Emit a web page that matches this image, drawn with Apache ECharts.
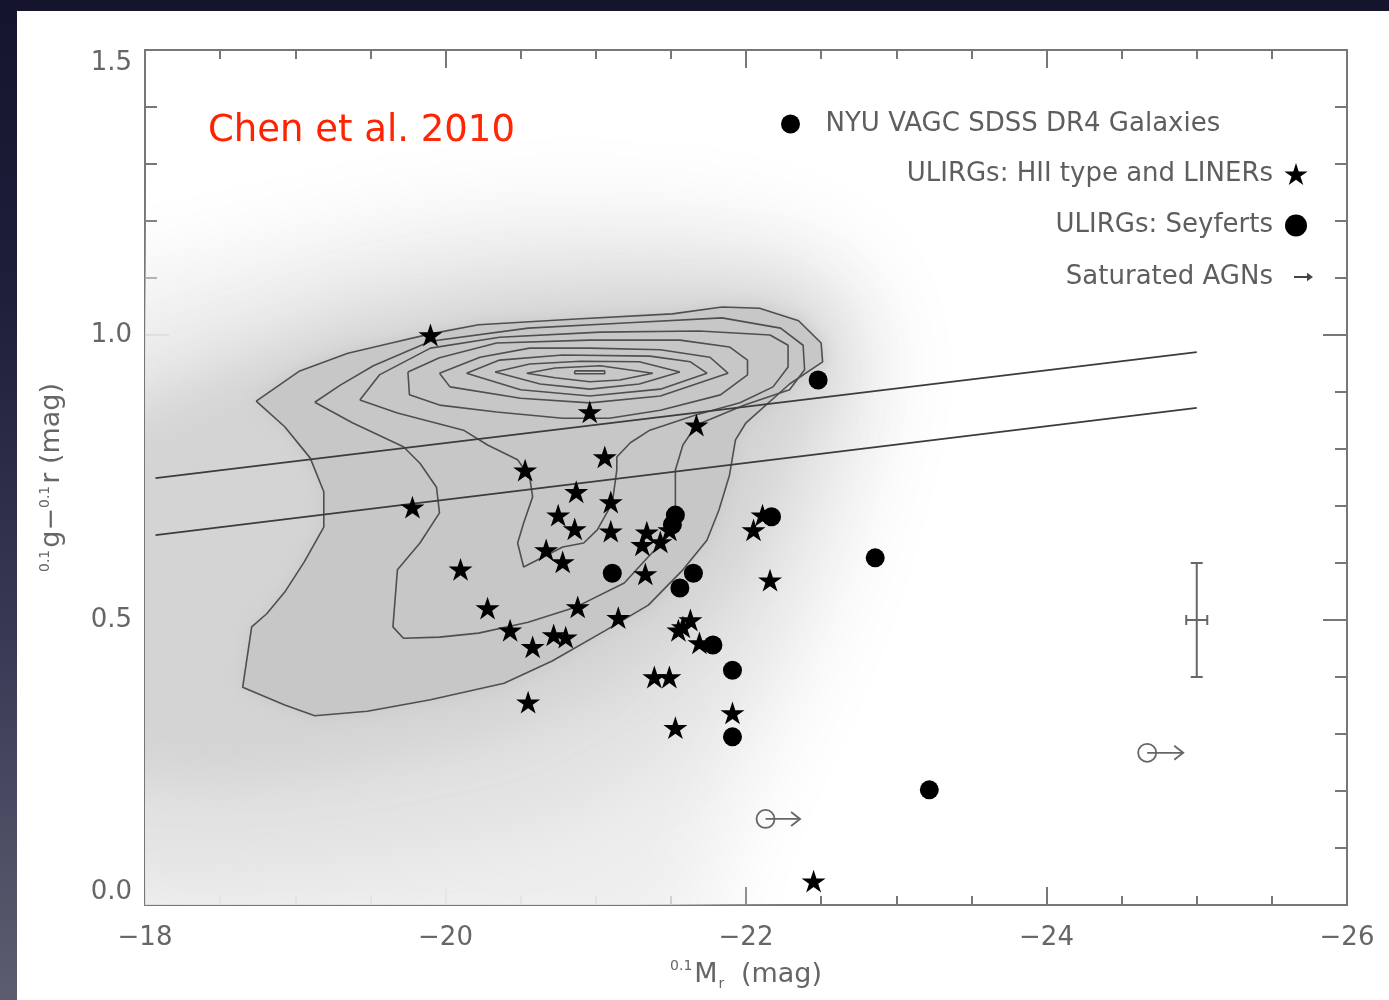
<!DOCTYPE html>
<html>
<head>
<meta charset="utf-8">
<script src="https://cdn.jsdelivr.net/npm/echarts@6/dist/echarts.min.js"></script>
<style>
  html, body { margin: 0; padding: 0; width: 1389px; height: 1000px; overflow: hidden;
    background: linear-gradient(180deg, #14142c 0%, #1f1f3c 30%, #3a3a56 65%, #5d5d70 100%); }
  #chart { position: absolute; left: 17px; top: 11px; width: 1372px; height: 989px; background: #fff; }
</style>
</head>
<body>
<div id="chart"></div>
<script>
// ---- series names ----
const NAME_GALAXIES = 'NYU VAGC SDSS DR4 Galaxies';
const NAME_HII = 'ULIRGs: HII type and LINERs';
const NAME_SEY = 'ULIRGs: Seyferts';
const NAME_SAT = 'Saturated AGNs';

// ---- ULIRGs, HII type and LINERs: [0.1Mr, 0.1(g-r)] ----
const hiiLinerStars = [
  [-19.90, 1.000], [-20.96, 0.865], [-21.67, 0.842], [-21.06, 0.786], [-20.53, 0.763],
  [-19.78, 0.698], [-20.87, 0.725], [-21.10, 0.707], [-20.75, 0.684], [-20.86, 0.660],
  [-21.10, 0.656], [-21.34, 0.654], [-21.31, 0.632], [-21.43, 0.637], [-21.49, 0.658],
  [-20.67, 0.623], [-20.78, 0.602], [-20.10, 0.589], [-21.33, 0.581], [-22.05, 0.658],
  [-22.11, 0.684], [-22.16, 0.570], [-20.28, 0.521], [-20.88, 0.523], [-21.15, 0.504],
  [-20.43, 0.482], [-20.58, 0.453], [-20.72, 0.474], [-20.80, 0.470], [-20.55, 0.356],
  [-21.39, 0.400], [-21.49, 0.400], [-21.53, 0.311], [-21.58, 0.488], [-21.63, 0.500],
  [-21.55, 0.482], [-21.69, 0.460], [-21.91, 0.337], [-22.45, 0.042]
];

// ---- ULIRGs, Seyferts ----
const seyfertDots = [
  [-22.48, 0.921], [-21.53, 0.684], [-21.51, 0.667], [-21.11, 0.582], [-21.65, 0.582],
  [-21.56, 0.556], [-21.78, 0.456], [-21.91, 0.412], [-21.91, 0.295], [-22.17, 0.681],
  [-22.86, 0.609], [-23.22, 0.202]
];

// ---- saturated AGNs: [Mr lower limit, colour, arrow tip Mr] ----
const saturatedAgn = [
  [-24.67, 0.267, -24.91],
  [-22.13, 0.151, -22.36]
];

// ---- typical uncertainty: [Mr, colour, dMr, dColour] ----
const typicalError = [[-25.0, 0.5, 0.07, 0.1]];

// ---- colour dividing lines ----
const dividerUpper = [[-18.07, 0.749], [-25.00, 0.970]];
const dividerLower = [[-18.07, 0.649], [-25.00, 0.872]];

// ---- galaxy density contours (outermost to innermost) ----
const contourA = [
  [-18.74, 0.884], [-19.03, 0.937], [-19.35, 0.968], [-19.64, 0.986], [-19.90, 1.002],
  [-20.22, 1.018], [-20.87, 1.028], [-21.51, 1.037], [-21.84, 1.049], [-22.09, 1.047],
  [-22.35, 1.025], [-22.50, 0.986], [-22.51, 0.953], [-22.29, 0.914], [-22.00, 0.846],
  [-21.93, 0.816], [-21.89, 0.754], [-21.82, 0.693], [-21.74, 0.640], [-21.58, 0.588],
  [-21.35, 0.526], [-21.06, 0.481], [-20.71, 0.428], [-20.39, 0.389], [-19.90, 0.360],
  [-19.48, 0.340], [-19.13, 0.332], [-18.93, 0.351], [-18.65, 0.382], [-18.71, 0.488],
  [-18.81, 0.511], [-18.93, 0.549], [-19.06, 0.602], [-19.19, 0.663], [-19.19, 0.725],
  [-19.10, 0.784], [-18.93, 0.839]
];
const contourB = [
  [-19.13, 0.882], [-19.30, 0.912], [-19.52, 0.946], [-19.90, 0.989], [-20.55, 1.012],
  [-21.19, 1.021], [-21.84, 1.030], [-22.23, 1.012], [-22.38, 0.982], [-22.39, 0.939],
  [-22.29, 0.904], [-21.99, 0.877], [-21.67, 0.842], [-21.58, 0.807], [-21.53, 0.763],
  [-21.53, 0.693], [-21.48, 0.647], [-21.35, 0.611], [-21.19, 0.565], [-20.87, 0.523],
  [-20.55, 0.496], [-20.22, 0.477], [-19.96, 0.470], [-19.72, 0.468], [-19.65, 0.488],
  [-19.68, 0.588], [-19.83, 0.635], [-19.96, 0.688], [-19.94, 0.733], [-19.83, 0.775],
  [-19.72, 0.804], [-19.38, 0.846]
];
const contourC = [
  [-19.43, 0.886], [-19.56, 0.930], [-19.90, 0.977], [-20.36, 0.996], [-21.03, 1.005],
  [-21.69, 1.007], [-22.16, 1.000], [-22.28, 0.982], [-22.28, 0.944], [-22.18, 0.909],
  [-21.96, 0.881], [-21.67, 0.860], [-21.36, 0.833], [-21.23, 0.811], [-21.14, 0.786],
  [-21.14, 0.763], [-21.11, 0.705], [-21.01, 0.658], [-20.92, 0.635], [-20.78, 0.628],
  [-20.52, 0.593], [-20.48, 0.635], [-20.52, 0.670], [-20.58, 0.716], [-20.56, 0.751],
  [-20.48, 0.781], [-20.28, 0.807], [-20.12, 0.833], [-19.68, 0.863]
];
const contourD = [
  [-19.75, 0.935], [-19.76, 0.895], [-19.96, 0.877], [-20.34, 0.865], [-20.78, 0.854],
  [-21.09, 0.854], [-21.43, 0.868], [-21.83, 0.895], [-22.01, 0.930], [-22.01, 0.956],
  [-21.89, 0.979], [-21.56, 0.991], [-20.96, 0.991], [-20.34, 0.986], [-19.96, 0.960]
];
const contourE = [
  [-19.96, 0.933], [-20.03, 0.909], [-20.50, 0.889], [-20.96, 0.881], [-21.43, 0.893],
  [-21.88, 0.933], [-21.76, 0.961], [-21.43, 0.974], [-20.96, 0.977], [-20.56, 0.977],
  [-20.23, 0.961]
];
const contourF = [
  [-20.14, 0.933], [-20.50, 0.904], [-20.96, 0.893], [-21.43, 0.905], [-21.74, 0.933],
  [-21.63, 0.953], [-21.36, 0.963], [-20.78, 0.965], [-20.36, 0.956]
];
const contourG = [
  [-20.33, 0.935], [-20.63, 0.914], [-20.96, 0.905], [-21.29, 0.914], [-21.56, 0.935],
  [-21.29, 0.953], [-20.90, 0.954], [-20.56, 0.949]
];
const contourH = [
  [-20.54, 0.933], [-20.73, 0.925], [-20.96, 0.918], [-21.16, 0.921], [-21.38, 0.933],
  [-21.03, 0.946], [-20.73, 0.942]
];
const contourPeak = [[-20.86, 0.937], [-21.06, 0.937], [-21.06, 0.932], [-20.86, 0.932]];

// ---- outer envelopes of the galaxy cloud (faint to dense) ----
const cloudFaint = [
  [-17.60, 1.080], [-18.70, 1.140], [-19.70, 1.200], [-20.70, 1.225], [-21.69, 1.215],
  [-22.49, 1.165], [-22.89, 1.061], [-22.93, 0.886], [-22.76, 0.711], [-22.56, 0.535],
  [-22.29, 0.360], [-21.96, 0.184], [-21.63, -0.10], [-17.60, -0.10]
];
const cloudMedium = [
  [-17.60, 0.900], [-18.57, 0.990], [-19.36, 1.070], [-20.36, 1.115], [-21.36, 1.125],
  [-22.29, 1.105], [-22.68, 1.035], [-22.70, 0.904], [-22.50, 0.763], [-22.30, 0.605],
  [-22.00, 0.430], [-21.49, 0.254], [-20.76, 0.140], [-19.70, 0.080], [-18.70, 0.050],
  [-17.60, 0.050]
];
const cloudDense = [
  [-17.60, 0.816], [-18.60, 0.940], [-19.36, 1.012], [-20.36, 1.060], [-21.36, 1.075],
  [-22.20, 1.065], [-22.50, 1.009], [-22.52, 0.912], [-22.28, 0.798], [-22.08, 0.640],
  [-21.70, 0.500], [-21.09, 0.377], [-20.30, 0.289], [-19.36, 0.237], [-18.57, 0.211],
  [-17.60, 0.228]
];

// ---- styling ----
const FONT = '"DejaVu Sans", "Liberation Sans", sans-serif';
const AXIS_GREY = '#777777';
const TEXT_GREY = '#666666';
const STAR = 'path://M10,0L12.35,7.2L19.9,7.2L13.8,11.6L16.2,18.8L10,14.4L3.8,18.8L6.2,11.6L0.1,7.2L7.65,7.2Z';
const ARROW = 'path://M0,0M36,22M16,10L29,10L29,6.8L35,11L29,15.2L29,12L16,12Z';
// the envelope shape is painted far off-canvas so only its blurred shadow lands in the plot
const GLOW_SHIFT = 4000;

function softRegion(pts, color, blur, z) {
  return {
    type: 'custom', name: NAME_GALAXIES, z, silent: true, clip: true, animation: false,
    data: [pts[0]],
    renderItem(params, api) {
      return {
        type: 'polygon',
        shape: { points: pts.map(p => { const c = api.coord(p); return [c[0] + GLOW_SHIFT, c[1]]; }) },
        style: { fill: color, shadowBlur: blur, shadowColor: color, shadowOffsetX: -GLOW_SHIFT, shadowOffsetY: 0 }
      };
    }
  };
}

function filledRegion(pts, fill, blur, z) {
  return {
    type: 'custom', name: NAME_GALAXIES, z, silent: true, clip: true, animation: false,
    data: [pts[0]],
    renderItem(params, api) {
      return {
        type: 'polygon',
        shape: { points: pts.map(p => api.coord(p)) },
        style: { fill, shadowBlur: blur, shadowColor: fill }
      };
    }
  };
}

function contourLine(pts) {
  return {
    type: 'line', name: NAME_GALAXIES, z: 3, silent: true, clip: true, animation: false,
    data: pts.concat([pts[0]]), symbol: 'none', smooth: false,
    lineStyle: { color: '#4f4f4f', width: 1.6 }
  };
}

function dividerLine(name, pts) {
  return {
    type: 'line', name, z: 4, silent: true, clip: true, animation: false,
    data: pts, symbol: 'none', lineStyle: { color: '#3c3c3c', width: 1.8 }
  };
}

const tickStyle = { color: AXIS_GREY, width: 2 };
const xBase = {
  type: 'value', min: -26, max: -18, interval: 2, inverse: true,
  axisLine: { show: true, onZero: false, lineStyle: tickStyle },
  axisTick: { show: true, inside: true, length: 18, lineStyle: tickStyle },
  minorTick: { show: true, splitNumber: 4, length: 9, lineStyle: tickStyle },
  splitLine: { show: false }
};
const yBase = {
  type: 'value', min: 0, max: 1.5, interval: 0.5,
  axisLine: { show: true, onZero: false, lineStyle: tickStyle },
  axisTick: { show: true, inside: true, length: 24, lineStyle: tickStyle },
  minorTick: { show: true, splitNumber: 5, length: 12, lineStyle: tickStyle },
  splitLine: { show: false }
};

const chart = echarts.init(document.getElementById('chart'), null, { renderer: 'canvas' });

chart.setOption({
  backgroundColor: '#ffffff',
  animation: false,
  grid: { left: 128, top: 39, right: 42, bottom: 95, containLabel: false },
  xAxis: [
    Object.assign({}, xBase, {
      position: 'bottom',
      axisLabel: {
        show: true, fontSize: 26, color: TEXT_GREY, fontFamily: FONT, margin: 20,
        formatter: v => String(v).replace('-', '\u2212')
      },
      name: '{sup|0.1}M{sub|r} (mag)',
      nameLocation: 'middle', nameGap: 54,
      nameTextStyle: {
        fontSize: 27, color: TEXT_GREY, fontFamily: FONT,
        rich: {
          sup: { fontSize: 14, color: TEXT_GREY, fontFamily: FONT, verticalAlign: 'top', padding: [0, 2, 12, 0] },
          sub: { fontSize: 14, color: TEXT_GREY, fontFamily: FONT, verticalAlign: 'bottom', padding: [18, 8, 0, 1] }
        }
      }
    }),
    Object.assign({}, xBase, { position: 'top', axisLabel: { show: false } })
  ],
  yAxis: [
    Object.assign({}, yBase, {
      position: 'left',
      axisLabel: {
        show: true, fontSize: 26, color: TEXT_GREY, fontFamily: FONT, margin: 13,
        formatter: v => v.toFixed(1),
        verticalAlignMinLabel: 'bottom', verticalAlignMaxLabel: 'top'
      },
      name: '{sup|0.1}g\u2212{sup|0.1}r (mag)',
      nameLocation: 'middle', nameGap: 80,
      nameTextStyle: {
        fontSize: 27, color: TEXT_GREY, fontFamily: FONT,
        rich: {
          sup: { fontSize: 14, color: TEXT_GREY, fontFamily: FONT, verticalAlign: 'top', padding: [0, 2, 12, 0] }
        }
      }
    }),
    Object.assign({}, yBase, { position: 'right', axisLabel: { show: false } })
  ],
  legend: [
    {
      data: [{ name: NAME_GALAXIES, icon: 'circle', itemStyle: { color: '#000000', borderWidth: 0 } }],
      left: 764, top: 100, padding: 0,
      itemWidth: 60, itemHeight: 19,
      textStyle: { fontSize: 26, color: '#5e5e5e', fontFamily: FONT },
      selectedMode: false
    },
    {
      orient: 'vertical', align: 'right',
      right: 75, top: 150, padding: 0,
      itemWidth: 36, itemHeight: 22, itemGap: 25.5,
      data: [
        { name: NAME_HII, icon: STAR, itemStyle: { color: '#000000' } },
        { name: NAME_SEY, icon: 'circle', itemStyle: { color: '#000000' } },
        { name: NAME_SAT, icon: ARROW, itemStyle: { color: '#444444' } }
      ],
      textStyle: { fontSize: 26, color: '#5e5e5e', fontFamily: FONT },
      selectedMode: false
    }
  ],
  graphic: [
    {
      type: 'text', left: 191, top: 102, silent: true,
      style: { text: 'Chen et al. 2010', fontSize: 37, fontFamily: FONT, fill: '#ff2200' }
    }
  ],
  series: [
    softRegion(cloudFaint, '#eeeeee', 90, 1),
    softRegion(cloudMedium, '#e2e2e2', 70, 1),
    softRegion(cloudDense, '#d4d4d4', 50, 1),
    filledRegion(contourA, '#c7c7c7', 16, 2),
    contourLine(contourA),
    contourLine(contourB),
    contourLine(contourC),
    contourLine(contourD),
    contourLine(contourE),
    contourLine(contourF),
    contourLine(contourG),
    contourLine(contourH),
    contourLine(contourPeak),
    dividerLine('upper divider', dividerUpper),
    dividerLine('lower divider', dividerLower),
    {
      type: 'custom', name: 'typical error', z: 4, silent: true, animation: false,
      data: typicalError,
      renderItem(params, api) {
        const x = api.value(0), y = api.value(1), ex = api.value(2), ey = api.value(3);
        const t = api.coord([x, y + ey]), b = api.coord([x, y - ey]);
        const l = api.coord([x - ex, y]), r = api.coord([x + ex, y]);
        const s = { stroke: '#666666', lineWidth: 2 };
        const seg = (x1, y1, x2, y2) => ({ type: 'line', shape: { x1, y1, x2, y2 }, style: s });
        return {
          type: 'group', children: [
            seg(t[0], t[1], b[0], b[1]),
            seg(t[0] - 6, t[1], t[0] + 6, t[1]),
            seg(b[0] - 6, b[1], b[0] + 6, b[1]),
            seg(l[0], l[1], r[0], r[1]),
            seg(l[0], l[1] - 5, l[0], l[1] + 5),
            seg(r[0], r[1] - 5, r[0], r[1] + 5)
          ]
        };
      }
    },
    {
      type: 'custom', name: NAME_SAT, z: 4, animation: false,
      itemStyle: { color: '#444444' },
      data: saturatedAgn,
      renderItem(params, api) {
        const p = api.coord([api.value(0), api.value(1)]);
        const e = api.coord([api.value(2), api.value(1)]);
        const s = { stroke: '#666666', lineWidth: 1.8, fill: 'none' };
        return {
          type: 'group', children: [
            { type: 'circle', shape: { cx: p[0], cy: p[1], r: 9 }, style: s },
            { type: 'line', shape: { x1: p[0], y1: p[1], x2: e[0], y2: e[1] }, style: s },
            { type: 'polyline', shape: { points: [[e[0] - 9, e[1] - 7], [e[0], e[1]], [e[0] - 9, e[1] + 7]] }, style: s }
          ]
        };
      }
    },
    {
      type: 'scatter', name: NAME_HII, z: 6, animation: false,
      symbol: STAR, symbolSize: 24, symbolKeepAspect: true,
      itemStyle: { color: '#000000', opacity: 1 },
      data: hiiLinerStars
    },
    {
      type: 'scatter', name: NAME_SEY, z: 6, animation: false,
      symbol: 'circle', symbolSize: 19,
      itemStyle: { color: '#000000', opacity: 1 },
      data: seyfertDots
    }
  ]
});
</script>
</body>
</html>
